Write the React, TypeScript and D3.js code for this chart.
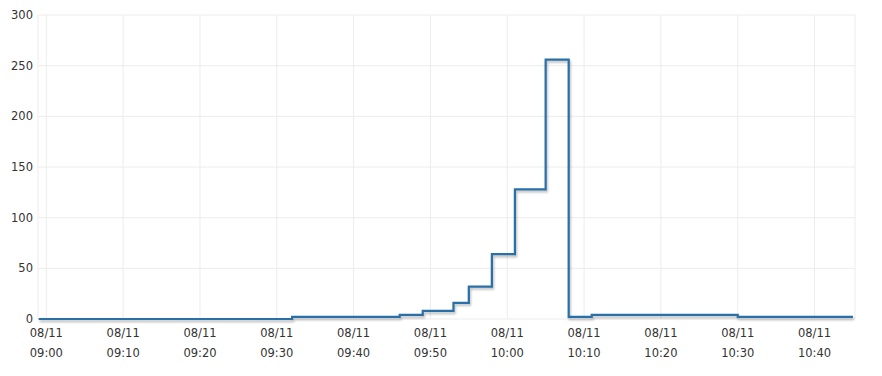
import React from "react";
import * as d3 from "d3";

const stepTimes = ["08:59", "09:32", "09:46", "09:49", "09:53", "09:55", "09:58", "10:01", "10:05", "10:08", "10:11", "10:30", "10:45"];
const stepValues = [0, 2, 4, 8, 16, 32, 64, 128, 256, 2, 4, 2, 2];
const yTicks = [0, 50, 100, 150, 200, 250, 300];
const xTickTimes = ["09:00", "09:10", "09:20", "09:30", "09:40", "09:50", "10:00", "10:10", "10:20", "10:30", "10:40"];
const dateLabel = "08/11";

const parse = (s: string) => {
  const [h, m] = s.split(":").map(Number);
  return new Date(2020, 7, 11, h, m, 0);
};

export default function App() {
  const W = 882, H = 376;
  const left = 38, right = 855, top = 15, bottom = 319;
  const x = d3.scaleTime()
    .domain([new Date(2020, 7, 11, 8, 58, 55), new Date(2020, 7, 11, 10, 45, 16)])
    .range([left, right]);
  const y = d3.scaleLinear().domain([0, 300]).range([bottom, top]);
  const data = stepTimes.map((t, i) => ({ t: parse(t), v: stepValues[i] }));
  const line = d3.line<{ t: Date; v: number }>()
    .x((d) => x(d.t))
    .y((d) => y(d.v))
    .curve(d3.curveStepAfter);
  const path = line(data) || "";
  const font = "'DejaVu Sans', Verdana, sans-serif";
  return (
    <svg width={W} height={H} style={{ position: "absolute", left: 0, top: 0 }}>
      <defs>
        <filter id="sh" x="-10%" y="-10%" width="120%" height="130%">
          <feGaussianBlur stdDeviation="1.2" />
        </filter>
      </defs>
      <rect x={0} y={0} width={W} height={H} fill="#fff" />
      {yTicks.map((t) => (
        <line key={"h" + t} x1={left} x2={right} y1={y(t)} y2={y(t)} stroke="#ececec" strokeWidth={1} />
      ))}
      <line x1={left} x2={left} y1={top} y2={bottom} stroke="#ececec" />
      <line x1={right} x2={right} y1={top} y2={bottom} stroke="#ececec" />
      {xTickTimes.map((t) => (
        <line key={"v" + t} x1={x(parse(t))} x2={x(parse(t))} y1={top} y2={bottom} stroke="#ececec" />
      ))}
      {yTicks.map((t) => (
        <text key={"yl" + t} x={33} y={y(t)} dy="0.35em" textAnchor="end" fontFamily={font} fontSize={11.5} fill="#333">
          {t}
        </text>
      ))}
      {xTickTimes.map((t) => (
        <g key={"xl" + t} transform={`translate(${x(parse(t))},0)`}>
          <text y={333} dy="0.35em" textAnchor="middle" fontFamily={font} fontSize={11.5} fill="#333">{dateLabel}</text>
          <text y={353} dy="0.35em" textAnchor="middle" fontFamily={font} fontSize={11.5} fill="#333">{t}</text>
        </g>
      ))}
      <path d={path} fill="none" stroke="rgba(0,0,0,0.25)" strokeWidth={2.5} transform="translate(1,2)" filter="url(#sh)" />
      <path d={path} fill="none" stroke="#2a70a8" strokeWidth={2.2} />
    </svg>
  );
}
